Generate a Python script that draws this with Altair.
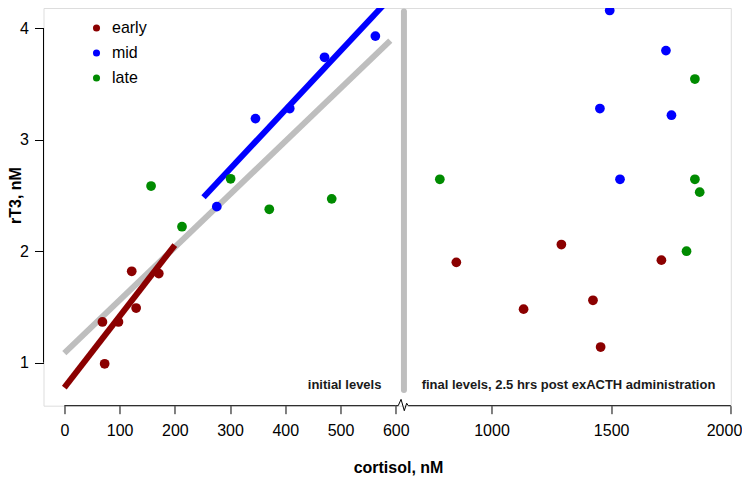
import altair as alt
import pandas as pd

FONT = "Liberation Sans"

# ---- data ----
stages = ["early", "mid", "late"]
stage_colors = ["#8B0000", "#0000FF", "#008B00"]

early_x_initial = [69, 73, 98, 122, 130, 171]
early_y_initial = [1.365, 0.99, 1.365, 1.82, 1.49, 1.80]
mid_x_initial = [276, 346, 408, 471, 563]
mid_y_initial = [2.40, 3.19, 3.28, 3.74, 3.93]
late_x_initial = [157, 213, 301, 371, 484]
late_y_initial = [2.585, 2.22, 2.65, 2.376, 2.47]

early_x_final = [853, 1134, 1292, 1424, 1456, 1710]
early_y_final = [1.90, 1.48, 2.06, 1.56, 1.14, 1.92]
mid_x_final = [1494, 1729, 1453, 1752, 1537]
mid_y_final = [4.16, 3.80, 3.28, 3.22, 2.645]
late_x_final = [784, 1850, 1850, 1870, 1815]
late_y_final = [2.645, 3.545, 2.645, 2.53, 2.00]

# regression segments (initial levels)
fit_names = ["all", "early", "mid"]
fit_colors = ["#BEBEBE", "#8B0000", "#0000FF"]
fit_x0 = [0, 0, 252]
fit_x1 = [590, 200, 595]
fit_y0 = [1.085, 0.776, 2.484]
fit_y1 = [3.889, 2.055, 4.30]

# axis ticks / scale
x_ticks = [0, 100, 200, 300, 400, 500, 600, 1000, 1500, 2000]
y_ticks = [1, 2, 3, 4]
x_domain = [-37.7, 600, 2000]
y_domain = [0.614, 4.182]

# broken-axis line (with zig-zag) and separator bar
brk_x = [0, 600, 610, 622, 635.5, 645.5, 652, 2000]
brk_y = [0.614, 0.614, 0.614, 0.671, 0.569, 0.636, 0.614, 0.614]
sep_x = 634
sep_y = [0.755, 4.15]

labels_text = ["initial levels", "final levels, 2.5 hrs post exACTH administration"]
labels_x = [574, 708]
labels_y = [0.764, 0.764]
labels_align = ["right", "left"]

# ---- tables ----
rows = []
for st, xs, ys in [("early", early_x_initial, early_y_initial),
                   ("mid", mid_x_initial, mid_y_initial),
                   ("late", late_x_initial, late_y_initial),
                   ("early", early_x_final, early_y_final),
                   ("mid", mid_x_final, mid_y_final),
                   ("late", late_x_final, late_y_final)]:
    for x, y in zip(xs, ys):
        rows.append({"cortisol": x, "rT3": y, "stage": st})
pts = pd.DataFrame(rows)

fits = pd.DataFrame({"fit": fit_names, "x0": fit_x0, "x1": fit_x1,
                     "y0": fit_y0, "y1": fit_y1})
brk = pd.DataFrame({"x": brk_x, "y": brk_y, "i": list(range(len(brk_x)))})
labs = pd.DataFrame({"t": labels_text, "x": labels_x, "y": labels_y, "a": labels_align})

W, H = 687.3, 397.7
xscale = alt.Scale(domain=x_domain, range=[0, 352.3, W], zero=False, nice=False)
yscale = alt.Scale(domain=y_domain, zero=False, nice=False)

x_axis = alt.Axis(values=x_ticks, format="d", domain=False, grid=False, tickSize=8,
                  tickColor="black", labelFontSize=16, labelPadding=9,
                  labelColor="black", labelFont=FONT, labelOverlap=False,
                  labelFlush=True, labelFlushOffset=11,
                  title="cortisol, nM", titleFont=FONT,
                  titleFontSize=16, titleFontWeight="bold", titleColor="black",
                  titleX=354.5, titleY=67, titleBaseline="alphabetic",
                  titleAnchor="middle", titleAlign="center")
y_axis = alt.Axis(values=y_ticks, format="d", domain=False, grid=False, tickSize=9,
                  tickColor="black", labelFontSize=16, labelPadding=6,
                  labelColor="black", labelFont=FONT, labelAngle=0,
                  title="rT3, nM", titleFont=FONT, titleFontSize=16,
                  titleFontWeight="bold", titleColor="black",
                  titleAngle=270, titleX=-22.5, titleY=187,
                  titleBaseline="alphabetic", titleAlign="center")

base_x = alt.X("x0:Q", scale=xscale, axis=x_axis)
fit_layer = alt.Chart(fits).mark_rule(strokeWidth=6, clip=True).encode(
    x=base_x,
    x2="x1:Q",
    y=alt.Y("y0:Q", scale=yscale, axis=y_axis),
    y2="y1:Q",
    stroke=alt.Stroke("fit:N", scale=alt.Scale(domain=fit_names, range=fit_colors),
                      legend=None),
)

yline = alt.Chart(pd.DataFrame({"a": [1], "b": [4]})).mark_rule(
    color="black", strokeWidth=1).encode(
    x=alt.value(0), y="a:Q", y2="b:Q")

brk_layer = alt.Chart(brk).mark_line(color="black", strokeWidth=1).encode(
    x="x:Q", y="y:Q", order="i:Q")

sep_layer = alt.Chart(pd.DataFrame({"x": [sep_x], "y0": [sep_y[0]], "y1": [sep_y[1]]})).mark_rule(
    color="#BEBEBE", strokeWidth=6, strokeCap="round").encode(
    x="x:Q", y="y0:Q", y2="y1:Q")

txt_r = alt.Chart(labs[labs.a == "right"]).mark_text(
    align="right", baseline="alphabetic", font=FONT, fontSize=13,
    fontWeight="bold", color="#1a1a1a").encode(x="x:Q", y="y:Q", text="t:N")
txt_l = alt.Chart(labs[labs.a == "left"]).mark_text(
    align="left", baseline="alphabetic", font=FONT, fontSize=13,
    fontWeight="bold", color="#1a1a1a").encode(x="x:Q", y="y:Q", text="t:N")

pts_layer = alt.Chart(pts).mark_circle(size=95, opacity=1).encode(
    x="cortisol:Q",
    y="rT3:Q",
    color=alt.Color("stage:N", scale=alt.Scale(domain=stages, range=stage_colors),
                    legend=alt.Legend(title=None, orient="none", legendX=45,
                                      legendY=12, symbolSize=50,
                                      symbolType="circle", labelFontSize=16,
                                      labelFont=FONT, labelColor="black",
                                      labelOffset=7.5, rowPadding=9, padding=0,
                                      symbolStrokeWidth=0)),
)

chart = alt.layer(fit_layer, yline, brk_layer, sep_layer, txt_r, txt_l, pts_layer).properties(
    width=W, height=H,
    autosize=alt.AutoSizeParams(type="none"),
    padding={"left": 35.5, "top": 0, "right": 11, "bottom": 72.3},
).configure_view(stroke=None).configure(background="white")

chart.save("out.html", embed_options={"renderer": "svg", "actions": False})
